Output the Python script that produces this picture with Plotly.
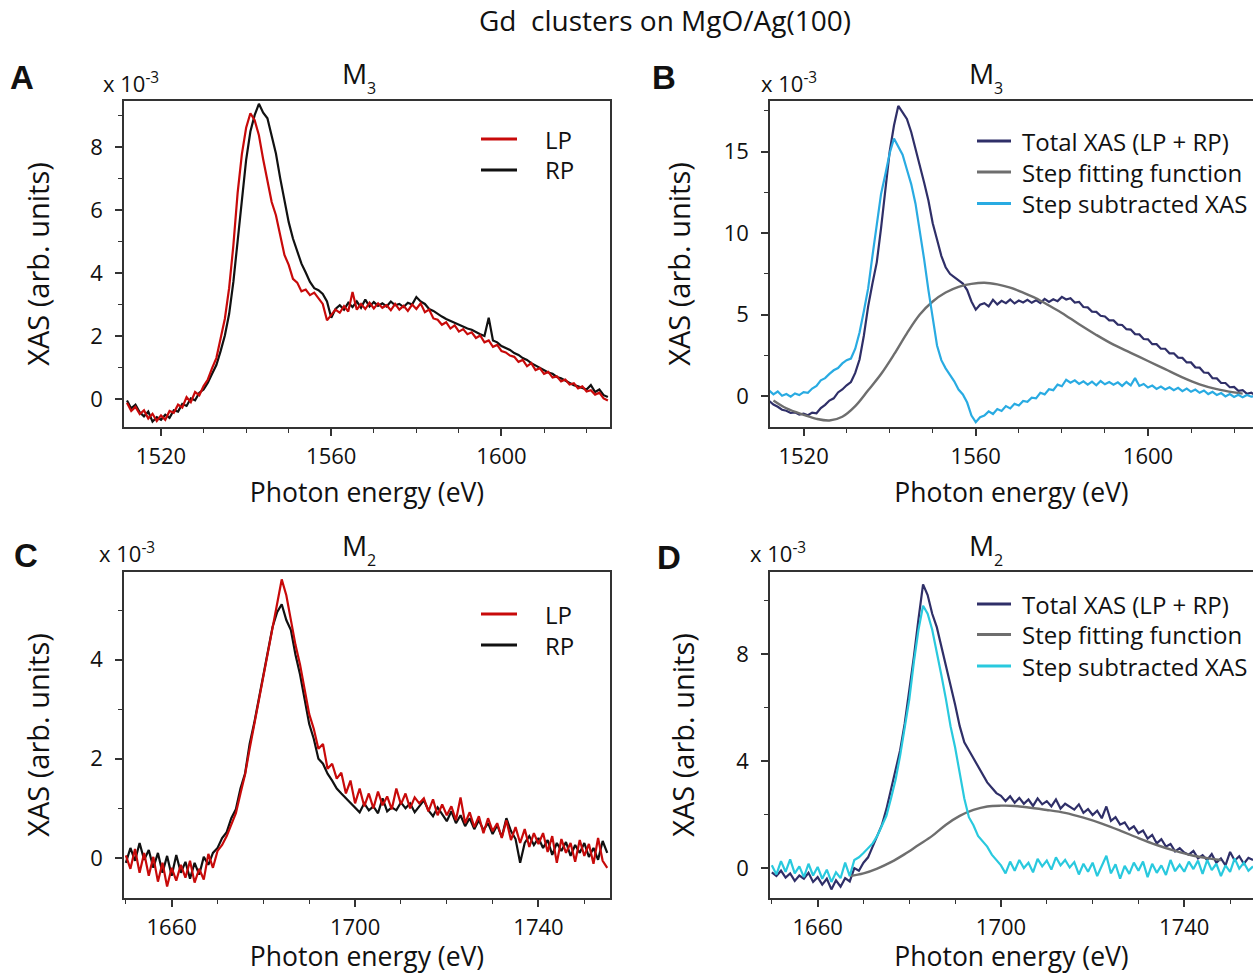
import plotly.graph_objects as go

# ---------------- DATA (values in units of 1e-3) ----------------
E_M3 = list(range(1512, 1626))   # photon energy grid, M3 edge (eV)
E_M2 = list(range(1650, 1756))   # photon energy grid, M2 edge (eV)

LP_M3 = [
    -0.12, -0.38, -0.25, -0.48, -0.36, -0.62, -0.47, -0.70, -0.52, -0.66,
    -0.38, -0.44, -0.18, -0.27, 0.06, -0.10, 0.22, 0.12, 0.41, 0.62,
    0.98, 1.30, 1.92, 2.55, 3.52, 4.88, 6.55, 7.78, 8.62, 9.08,
    8.86, 8.38, 7.62, 6.94, 6.26, 5.84, 5.16, 4.58, 4.26, 3.82,
    3.70, 3.42, 3.48, 3.30, 3.38, 3.18, 3.02, 2.50, 2.66, 2.84,
    2.74, 2.95, 2.78, 3.40, 2.84, 3.02, 2.86, 3.06, 2.88, 3.04,
    2.90, 2.98, 2.82, 3.02, 2.84, 2.96, 2.80, 3.00, 2.86, 3.04,
    2.76, 2.84, 2.56, 2.52, 2.36, 2.44, 2.24, 2.34, 2.14, 2.22,
    2.06, 2.12, 1.94, 2.02, 1.80, 1.86, 1.66, 1.72, 1.52, 1.48,
    1.38, 1.34, 1.18, 1.24, 1.04, 1.14, 0.92, 0.98, 0.80, 0.86,
    0.68, 0.72, 0.56, 0.62, 0.46, 0.50, 0.34, 0.40, 0.24, 0.28,
    0.14, 0.20, 0.02, -0.05,
]
RP_M3 = [
    -0.05, -0.30, -0.18, -0.42, -0.55, -0.40, -0.72, -0.58, -0.66, -0.50,
    -0.60, -0.36, -0.40, -0.16, -0.22, 0.02, -0.04, 0.20, 0.30, 0.52,
    0.80, 1.08, 1.52, 2.02, 2.70, 3.72, 5.02, 6.42, 7.60, 8.50,
    9.02, 9.38, 9.10, 8.92, 8.40, 7.80, 7.02, 6.30, 5.62, 5.10,
    4.70, 4.30, 4.02, 3.72, 3.52, 3.46, 3.34, 3.10, 2.58, 2.86,
    2.98, 2.84, 3.06, 2.92, 3.10, 2.90, 3.16, 2.94, 3.08, 2.96,
    3.04, 2.94, 3.10, 2.98, 3.02, 2.92, 3.06, 3.00, 3.24, 3.10,
    3.02, 2.86, 2.80, 2.70, 2.62, 2.54, 2.48, 2.40, 2.36, 2.30,
    2.24, 2.20, 2.12, 2.06, 2.00, 2.58, 1.86, 1.80, 1.68, 1.62,
    1.56, 1.46, 1.40, 1.30, 1.24, 1.14, 1.06, 1.00, 0.92, 0.84,
    0.80, 0.70, 0.66, 0.58, 0.52, 0.44, 0.40, 0.34, 0.30, 0.44,
    0.22, 0.30, 0.12, 0.06,
]
TOTAL_M3 = [
    -0.30, -0.52, -0.66, -0.84, -0.90, -1.04, -1.00, -1.14, -1.08, -1.18,
    -1.02, -1.06, -0.74, -0.54, -0.28, -0.14, 0.22, 0.40, 0.66, 0.86,
    1.42, 2.24, 3.70, 5.50, 6.90, 8.20, 10.30, 12.80, 15.00, 16.60,
    17.80, 17.40, 17.00, 16.20, 15.20, 14.20, 13.10, 12.00, 10.60, 9.60,
    8.60, 7.90, 7.50, 7.30, 7.10, 6.90, 6.50, 5.80, 5.30, 5.60,
    5.70, 5.50, 5.90, 5.62, 5.84, 5.70, 5.92, 5.68, 5.86, 5.74,
    5.90, 5.72, 5.88, 5.70, 5.96, 5.78, 5.94, 5.82, 6.08, 5.92,
    6.00, 5.74, 5.78, 5.46, 5.44, 5.18, 5.16, 4.92, 4.88, 4.64,
    4.64, 4.38, 4.36, 4.10, 4.08, 3.80, 3.78, 3.50, 3.48, 3.18,
    3.18, 2.90, 2.90, 2.62, 2.62, 2.36, 2.34, 2.06, 2.06, 1.76,
    1.74, 1.44, 1.42, 1.10, 1.08, 0.80, 0.80, 0.54, 0.56, 0.32,
    0.36, 0.14, 0.20, 0.06,
]
SUB_M3 = [
    0.35, 0.10, 0.28, 0.02, 0.12, -0.04, 0.16, 0.06, 0.24, 0.20,
    0.46, 0.62, 0.96, 1.10, 1.36, 1.58, 1.72, 2.00, 2.20, 2.30,
    2.90, 3.90, 5.20, 6.60, 8.60, 10.60, 12.40, 13.60, 14.90, 15.80,
    15.30, 14.80, 13.90, 13.00, 11.80, 10.20, 8.40, 6.50, 4.70, 3.10,
    2.20, 1.70, 1.30, 0.90, 0.40, 0.10, -0.40, -1.20, -1.60, -1.30,
    -1.20, -0.94, -1.10, -0.80, -0.92, -0.62, -0.76, -0.48, -0.58, -0.30,
    -0.36, -0.10, -0.14, 0.20, 0.10, 0.42, 0.36, 0.70, 0.60, 1.00,
    0.82, 0.96, 0.74, 0.90, 0.70, 0.88, 0.66, 0.92, 0.72, 0.86,
    0.70, 0.84, 0.62, 0.86, 0.66, 1.10, 0.62, 0.74, 0.52, 0.64,
    0.44, 0.58, 0.40, 0.54, 0.36, 0.50, 0.30, 0.46, 0.26, 0.40,
    0.20, 0.34, 0.12, 0.26, 0.06, 0.18, -0.02, 0.12, -0.06, 0.08,
    -0.08, 0.06, -0.04, 0.02,
]
STEP_M3_E = [1513, 1516, 1520, 1523, 1526, 1529, 1532, 1535, 1538, 1541, 1544,
             1547, 1550, 1553, 1556, 1559, 1562, 1565, 1568, 1571, 1574, 1577,
             1580, 1584, 1588, 1592, 1596, 1600, 1604, 1608, 1612, 1616, 1620, 1622]
STEP_M3 = [-0.27, -0.75, -1.15, -1.40, -1.50, -1.27, -0.62, 0.35, 1.35, 2.55, 3.85,
           5.00, 5.80, 6.35, 6.70, 6.88, 6.95, 6.85, 6.65, 6.35, 6.00, 5.55,
           5.10, 4.40, 3.75, 3.15, 2.65, 2.15, 1.65, 1.15, 0.72, 0.42, 0.22, 0.15]

LP_M2 = [
    0.05, -0.22, 0.18, -0.30, 0.10, -0.36, 0.02, -0.48, -0.10, -0.58,
    -0.20, -0.46, -0.14, -0.40, -0.06, -0.50, -0.22, -0.44, 0.08, -0.20,
    0.14, 0.26, 0.44, 0.66, 0.90, 1.30, 1.68, 2.20, 2.70, 3.20,
    3.70, 4.20, 4.70, 5.20, 5.62, 5.30, 4.80, 4.30, 3.90, 3.40,
    2.90, 2.60, 2.20, 2.30, 1.80, 1.90, 1.60, 1.72, 1.30, 1.56,
    1.10, 1.40, 1.04, 1.30, 1.00, 1.34, 1.06, 1.24, 0.98, 1.40,
    1.08, 1.30, 1.00, 1.22, 1.10, 1.20, 0.94, 1.18, 0.86, 1.08,
    0.86, 1.04, 0.76, 1.22, 0.70, 0.92, 0.62, 0.84, 0.50, 0.80,
    0.54, 0.70, 0.40, 0.76, 0.36, 0.62, 0.30, 0.58, 0.22, 0.50,
    0.28, 0.50, 0.12, 0.44, -0.10, 0.38, 0.10, 0.30, -0.08, 0.36,
    0.04, 0.28, -0.12, 0.40, -0.06, -0.20,
]
RP_M2 = [
    -0.10, 0.20, -0.06, 0.30, -0.04, 0.16, -0.20, 0.10, -0.30, 0.04,
    -0.36, 0.06, -0.30, -0.08, -0.42, -0.10, -0.34, 0.02, -0.14, 0.10,
    0.20, 0.40, 0.52, 0.80, 0.98, 1.40, 1.70, 2.30, 2.72, 3.22,
    3.70, 4.24, 4.66, 4.96, 5.12, 4.80, 4.60, 4.10, 3.70, 3.20,
    2.70, 2.40, 2.00, 1.90, 1.70, 1.56, 1.40, 1.30, 1.20, 1.10,
    1.00, 0.92, 1.10, 0.96, 1.04, 0.90, 1.20, 0.94, 1.02, 0.96,
    1.12, 1.00, 1.10, 0.92, 1.04, 1.16, 0.96, 0.84, 1.02, 0.88,
    0.74, 0.94, 0.70, 0.86, 0.64, 0.80, 0.58, 0.76, 0.56, 0.70,
    0.48, 0.66, 0.42, 0.80, 0.54, 0.38, -0.10, 0.30, 0.44, 0.26,
    0.40, 0.20, 0.36, 0.06, 0.30, 0.14, 0.32, 0.04, 0.26, 0.10,
    0.30, 0.02, 0.20, -0.04, 0.34, 0.10,
]
TOTAL_M2 = [
    -0.16, -0.30, -0.10, -0.36, -0.20, -0.48, -0.28, -0.40, -0.18, -0.52,
    -0.34, -0.62, -0.40, -0.80, -0.46, -0.70, -0.38, -0.50, 0.00, -0.10,
    0.20, 0.40, 0.80, 1.20, 1.60, 2.20, 2.90, 3.60, 4.40, 5.40,
    6.60, 7.90, 9.30, 10.60, 10.20, 9.50, 9.00, 8.30, 7.60, 6.90,
    6.10, 5.30, 4.70, 4.40, 4.10, 3.80, 3.50, 3.20, 3.00, 2.80,
    2.70, 2.50, 2.68, 2.44, 2.62, 2.40, 2.56, 2.32, 2.60, 2.38,
    2.50, 2.30, 2.56, 2.22, 2.40, 2.28, 2.18, 2.38, 2.06, 2.20,
    1.98, 2.14, 1.86, 2.30, 1.76, 1.90, 1.62, 1.70, 1.44, 1.56,
    1.30, 1.40, 1.10, 1.24, 0.92, 1.08, 0.80, 0.90, 0.62, 0.74,
    0.58, 0.50, 0.64, 0.36, 0.48, 0.30, 0.52, 0.20, 0.36, 0.10,
    0.60, 0.28, 0.44, 0.16, 0.38, 0.30,
]
SUB_M2 = [
    0.10, -0.24, 0.26, -0.14, 0.32, -0.20, 0.06, -0.34, 0.16, -0.28,
    0.04, -0.40, -0.06, -0.52, -0.16, -0.38, 0.20, -0.30, 0.30, 0.40,
    0.56, 0.74, 0.92, 1.20, 1.60, 1.95, 2.60, 3.30, 4.20, 5.20,
    6.30, 7.70, 8.90, 9.80, 9.50, 8.90, 8.10, 7.20, 6.30, 5.30,
    4.50, 3.60, 2.60, 1.90, 1.60, 1.20, 1.00, 0.80, 0.50, 0.30,
    0.10, -0.20, 0.24, -0.10, 0.30, 0.00, 0.20, -0.16, 0.34, 0.06,
    0.28, -0.06, 0.40, 0.10, 0.30, 0.02, 0.22, -0.24, 0.16, -0.14,
    0.20, -0.30, 0.10, 0.46, -0.20, 0.14, -0.40, 0.08, -0.22, 0.20,
    -0.10, 0.24, -0.34, 0.16, -0.18, 0.10, -0.26, 0.30, -0.12, 0.12,
    -0.14, 0.24, -0.04, 0.28, -0.22, 0.30, -0.08, 0.16, -0.30, 0.10,
    -0.14, 0.36, -0.02, 0.20, -0.10, 0.06,
]
STEP_M2_E = [1667, 1670, 1673, 1676, 1679, 1682, 1685, 1688, 1691, 1694, 1697,
             1700, 1703, 1706, 1710, 1714, 1718, 1722, 1726, 1730, 1734, 1738,
             1742, 1746, 1748]
STEP_M2 = [-0.30, -0.20, -0.02, 0.22, 0.52, 0.86, 1.20, 1.62, 1.95, 2.17, 2.30,
           2.33, 2.32, 2.26, 2.17, 2.06, 1.88, 1.66, 1.40, 1.12, 0.86, 0.64,
           0.46, 0.34, 0.30]

X_TICKS_M3 = [1520, 1560, 1600]
X_TICKS_M2 = [1660, 1700, 1740]

# ---------------- STYLE ----------------
W, H = 1253, 974
FONT = "Open Sans"
RED, BLACK = "#C80A0A", "#111111"
NAVY, GRAY = "#2F2F68", "#6E6E6E"
BLUE_B, CYAN_D = "#29ABE2", "#29C9DE"
AXC = "#333333"

def px(x):
    return x / W

def py(y):
    return 1 - y / H

fig = go.Figure()

def line(x, y, color, ax, name, shape="linear", width=2.2):
    fig.add_trace(go.Scatter(x=x, y=y, mode="lines", name=name,
                             line=dict(color=color, width=width, shape=shape),
                             xaxis="x" + ax, yaxis="y" + ax, showlegend=False))

# A
line(E_M3, RP_M3, BLACK, "", "RP")
line(E_M3, LP_M3, RED, "", "LP")
# B
line(E_M3, TOTAL_M3, NAVY, "2", "Total XAS (LP + RP)")
line(STEP_M3_E, STEP_M3, GRAY, "2", "Step fitting function", shape="spline", width=2.4)
line(E_M3, SUB_M3, BLUE_B, "2", "Step subtracted XAS")
# C
line(E_M2, RP_M2, BLACK, "3", "RP")
line(E_M2, LP_M2, RED, "3", "LP")
# D
line(E_M2, TOTAL_M2, NAVY, "4", "Total XAS (LP + RP)")
line(STEP_M2_E, STEP_M2, GRAY, "4", "Step fitting function", shape="spline", width=2.4)
line(E_M2, SUB_M2, CYAN_D, "4", "Step subtracted XAS")

LEFT_A, RIGHT_A, LEFT_B = 124, 610, 770
TOP1, BOT1, TOP2, BOT2 = 101, 427, 572, 898

def xaxis(dom, rng, tickvals, mirror=True):
    return dict(domain=dom, range=rng, tickvals=tickvals, ticks="outside", ticklen=7,
                tickwidth=1.5, tickcolor=AXC, showline=True, linecolor=AXC, linewidth=1.6,
                mirror=mirror, showgrid=False, zeroline=False, automargin=False,
                ticklabelstandoff=2,
                minor=dict(dtick=10, ticks="outside", ticklen=4, tickwidth=1.3, tickcolor=AXC),
                tickfont=dict(family=FONT, size=22, color="#111"),
                title=dict(text="Photon energy (eV)", standoff=14,
                           font=dict(family=FONT, size=26.5, color="#111")))

def yaxis(dom, rng, dtick, mdtick, standoff, mirror=True):
    return dict(domain=dom, range=rng, dtick=dtick, tick0=0, ticks="outside", ticklen=7,
                tickwidth=1.5, tickcolor=AXC, showline=True, linecolor=AXC, linewidth=1.6,
                mirror=mirror, showgrid=False, zeroline=False, automargin=False,
                ticklabelstandoff=8,
                minor=dict(dtick=mdtick, tick0=0, ticks="outside", ticklen=4, tickwidth=1.3, tickcolor=AXC),
                tickfont=dict(family=FONT, size=22, color="#111"),
                title=dict(text="XAS (arb. units)", standoff=standoff,
                           font=dict(family=FONT, size=29, color="#111")))

fig.update_layout(
    width=W, height=H, margin=dict(l=0, r=0, t=0, b=0),
    paper_bgcolor="white", plot_bgcolor="white",
    font=dict(family=FONT, color="#111"),
    xaxis=xaxis([px(LEFT_A), px(RIGHT_A)], [1511.3, 1625.5], X_TICKS_M3),
    yaxis=yaxis([py(BOT1), py(TOP1)], [-0.89, 9.47], 2, 1, 32),
    xaxis2=xaxis([px(LEFT_B), 1.0], [1512.2, 1624.4], X_TICKS_M3),
    yaxis2=yaxis([py(BOT1), py(TOP1)], [-1.9, 18.1], 5, 2.5, 24, mirror=False),
    xaxis3=xaxis([px(LEFT_A), px(RIGHT_A)], [1649.6, 1755.6], X_TICKS_M2),
    yaxis3=yaxis([py(BOT2), py(TOP2)], [-0.81, 5.77], 2, 1, 32),
    xaxis4=xaxis([px(LEFT_B), 1.0], [1649.6, 1755.0], X_TICKS_M2),
    yaxis4=yaxis([py(BOT2), py(TOP2)], [-1.12, 11.06], 4, 2, 33, mirror=False),
)
for k in ["xaxis2", "xaxis3", "xaxis4"]:
    fig.layout[k].anchor = "y" + k[-1]
for k in ["yaxis2", "yaxis3", "yaxis4"]:
    fig.layout[k].anchor = "x" + k[-1]

ann = []
shapes = []

def text(x, y, t, size, xanchor="left", yanchor="middle", bold=False, family=FONT):
    ann.append(dict(x=px(x), y=py(y), xref="paper", yref="paper", text=t, showarrow=False,
                    xanchor=xanchor, yanchor=yanchor,
                    font=dict(family=family, size=size, color="#111",
                              weight="bold" if bold else "normal")))

text(664.5, 20, "Gd\u00a0 clusters on MgO/Ag(100)", 28, xanchor="center")
for (lx, ly, L) in [(22, 77, "A"), (664, 77, "B"), (26, 555, "C"), (669, 557, "D")]:
    text(lx, ly, L, 33, xanchor="center", bold=True, family="Liberation Sans")
for (mx, my, sub) in [(340, 73, "3"), (967, 73, "3"), (340, 545, "2"), (967, 545, "2")]:
    text(mx, my, "M", 28)
    text(mx + 25, my + 15, sub, 16)
for (sx, sy) in [(101, 100), (759, 100), (97, 570), (748, 570)]:
    text(sx, sy, "x 10<sup>-3</sup>", 22, yanchor="bottom")

def legend(x0, x1, xt, entries):
    for (yy, col, lab) in entries:
        shapes.append(dict(type="line", xref="paper", yref="paper", x0=px(x0), x1=px(x1),
                           y0=py(yy), y1=py(yy), line=dict(color=col, width=3)))
        text(xt, yy, lab, 24)

legend(481, 517, 543, [(139, RED, "LP"), (170, BLACK, "RP")])
legend(977, 1011, 1020, [(141, NAVY, "Total XAS (LP + RP)"), (172, GRAY, "Step fitting function"),
                         (203.5, BLUE_B, "Step subtracted XAS")])
legend(481, 517, 543, [(614, RED, "LP"), (645, BLACK, "RP")])
legend(977, 1011, 1020, [(604, NAVY, "Total XAS (LP + RP)"), (634.5, GRAY, "Step fitting function"),
                         (666, CYAN_D, "Step subtracted XAS")])

fig.update_layout(annotations=ann, shapes=shapes)
fig.write_html("out.html")
